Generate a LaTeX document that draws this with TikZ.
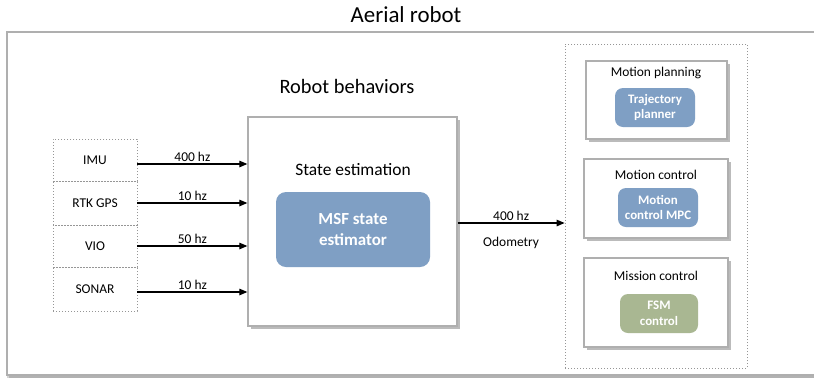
\documentclass[tikz,border=0pt]{standalone}
\usepackage{fontspec}
\setmainfont{Carlito}
\usetikzlibrary{shadows,arrows.meta}
\definecolor{boxblue}{RGB}{127,159,196}
\definecolor{boxgreen}{RGB}{169,183,146}
\definecolor{frameg}{RGB}{175,175,175}
\definecolor{shadowg}{RGB}{170,170,170}
\definecolor{dotg}{RGB}{150,150,150}
\tikzset{
  fs/.style={font=\fontsize{#1}{#1}\selectfont},
  panel/.style={draw=frameg, line width=1.3bp, fill=white, inner sep=0pt,
    drop shadow={shadow xshift=2.5bp, shadow yshift=-2.5bp, fill=shadowg, opacity=0.8}},
  dotbox/.style={draw=dotg, line width=0.8bp, dash pattern=on 0.8bp off 2.2bp, inner sep=0pt},
  sensor/.style={dotbox, minimum width=84bp, fs=13.5},
  inner/.style={rounded corners=8bp, draw=none, text=white, inner sep=0pt, align=center, font=\fontsize{13}{15.5}\selectfont\bfseries},
  lbl/.style={fs=13.5, inner sep=1.5bp},
  arr/.style={-{Triangle[length=8bp,width=6.5bp]}, line width=1.2bp},
}
\begin{document}
\begin{tikzpicture}[x=1bp,y=-1bp]
\useasboundingbox (0,0) rectangle (814,381);
% outer frame
\node[panel, minimum width=823bp, minimum height=343bp, drop shadow={shadow xshift=0bp, shadow yshift=-2.5bp, fill=shadowg}] (frame) at (418.5,203.5) {};
\node[fs=23] (title) at (406,15) {Aerial robot};
\node[fs=20.5] (behav) at (347,86) {Robot behaviors};
% sensors
\node[sensor, minimum height=42bp] (imu) at (95,160) {IMU};
\node[sensor, minimum height=44bp] (rtk) at (95,203) {RTK GPS};
\node[sensor, minimum height=42bp] (vio) at (95,246) {VIO};
\node[sensor, minimum height=44bp] (sonar) at (95,289) {SONAR};
% state estimation
\node[panel, minimum width=209bp, minimum height=209bp] (state) at (352.5,221.5) {};
\node[fs=17.5] (statelbl) at (353,170) {State estimation};
\node[inner, fill=boxblue, minimum width=154bp, minimum height=75bp, rounded corners=10bp, font=\fontsize{17}{21}\selectfont\bfseries] (msf) at (353,229.5) {MSF state\\estimator};
% arrows in
\draw[arr] (imu.east |- 0,164) -- node[lbl, above] {400 hz} (state.west |- 0,164);
\draw[arr] (rtk.east |- 0,203) -- node[lbl, above] {10 hz} (state.west |- 0,203);
\draw[arr] (vio.east |- 0,246) -- node[lbl, above] {50 hz} (state.west |- 0,246);
\draw[arr] (sonar.east |- 0,292) -- node[lbl, above] {10 hz} (state.west |- 0,292);
% right container
\node[dotbox, minimum width=182bp, minimum height=324bp] (cont) at (656,206) {};
\draw[arr] (state.east |- 0,223) -- node[lbl, above] {400 hz} node[lbl, below=12bp] {Odometry} (cont.west |- 0,223);
% motion planning
\node[panel, minimum width=141bp, minimum height=78bp] (mp) at (656.5,100) {};
\node[lbl] (mplbl) at (656,73) {Motion planning};
\node[inner, fill=boxblue, minimum width=80bp, minimum height=39bp] (traj) at (655,107.5) {Trajectory\\planner};
% motion control
\node[panel, minimum width=144bp, minimum height=79bp] (mc) at (656,198.5) {};
\node[lbl] (mclbl) at (656,175) {Motion control};
\node[inner, fill=boxblue, minimum width=80bp, minimum height=39bp] (mpc) at (658,207.5) {Motion\\control MPC};
% mission control
\node[panel, minimum width=144bp, minimum height=89bp] (mi) at (656,302.5) {};
\node[lbl] (milbl) at (656,276) {Mission control};
\node[inner, fill=boxgreen, minimum width=78bp, minimum height=39bp] (fsm) at (659,313.5) {FSM\\control};
\end{tikzpicture}
\end{document}
